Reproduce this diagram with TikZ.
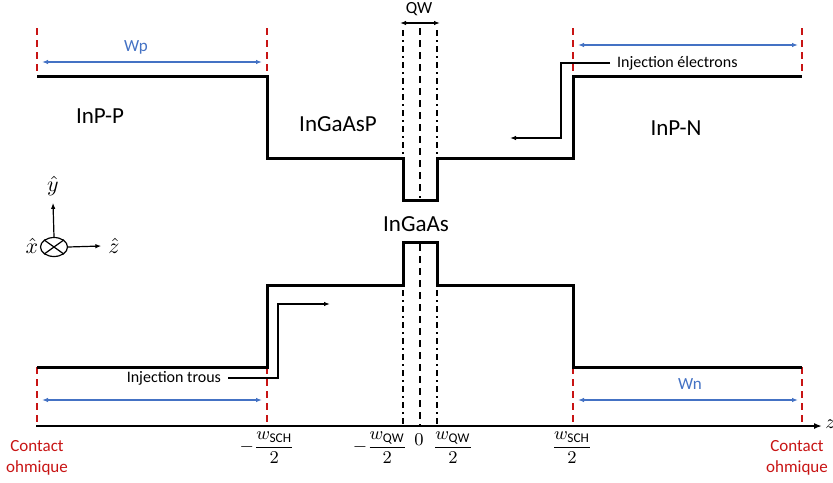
\documentclass[tikz,border=0pt]{standalone}
\usepackage{amsmath}
\usepackage{fontspec}
\setmainfont{Carlito}
\definecolor{ohmred}{RGB}{200,20,20}
\definecolor{widthblue}{RGB}{68,114,196}
\usetikzlibrary{arrows.meta,shapes.geometric}

\begin{document}
\begin{tikzpicture}[x=0.5pt,y=-0.5pt,
  band/.style={line width=1.5pt},
  ohmline/.style={ohmred, line width=1pt, dash pattern=on 3.5pt off 2.5pt},
  wdim/.style={widthblue, line width=0.8pt, {Latex[length=3pt]}-{Latex[length=3pt]}},
  inj/.style={line width=0.8pt, -{Latex[length=3pt]}},
  layer/.style={font=\fontsize{11.5}{13}\selectfont},
  smalltxt/.style={font=\fontsize{8}{9.5}\selectfont},
  ticklbl/.style={font=\fontsize{9.5}{11}\selectfont, inner sep=1pt}]
  \useasboundingbox (0,0) rectangle (833,482);

  \foreach \x in {37,267,573,802} {
    \draw[ohmline] (\x,28) -- (\x,76);
    \draw[ohmline] (\x,367) -- (\x,426);
  }
  \draw[wdim] (42,62) -- (262,62);
  \draw[wdim] (578,45) -- (798,45);
  \draw[wdim] (42,400) -- (262,400);
  \draw[wdim] (578,400) -- (798,400);
  \node[widthblue, font=\fontsize{8.5}{10}\selectfont] (wp) at (136,47) {Wp};
  \node[widthblue, font=\fontsize{8.5}{10}\selectfont] (wn) at (690,384) {Wn};

  \foreach \x in {403,437} {
    \draw[line width=1pt, dash dot] (\x,30) -- (\x,200);
    \draw[line width=1pt, dash dot] (\x,242) -- (\x,426);
  }
  \draw[line width=1pt, dash pattern=on 3.5pt off 2.5pt] (420,28) -- (420,198);
  \draw[line width=1pt, dash pattern=on 3.5pt off 2.5pt] (420,244) -- (420,426);
  \draw[line width=0.8pt, {Latex[length=3pt]}-{Latex[length=3pt]}] (400,23) -- (440,23);
  \node[font=\fontsize{8.5}{10}\selectfont] (qw) at (419,9) {QW};

  \draw[band] (37,76) -| (267,158) -| (403,200) -| (437,158) -| (573,76) -- (802,76);
  \draw[band] (37,367) -| (267,285) -| (403,242) -| (437,285) -| (573,367) -- (802,367);

  \node[layer] (inpp) at (100,116) {InP-P};
  \node[layer] (ingaasp) at (338,124) {InGaAsP};
  \node[layer] (inpn) at (676,128) {InP-N};
  \node[layer] (ingaas) at (416,224) {InGaAs};

  \node[smalltxt, anchor=west] (inje) at (610,63) {Injection électrons};
  \draw[inj] (inje.west) -| (561,138) -- (510,138);
  \node[smalltxt, anchor=east] (injt) at (228,378) {Injection trous};
  \draw[inj] (injt.east) -| (278,304) -- (330,304);

  \draw[line width=1pt, -{Latex[length=4pt]}] (36,426) -- (822,426);
  \node[anchor=west, inner sep=1pt, font=\fontsize{10}{12}\selectfont] (zlab) at (823,424) {$z$};

  \node[ticklbl] (mwsch) at (267,448) {$-\dfrac{w_{\mathrm{SCH}}}{2}$};
  \node[ticklbl] (mwqw) at (380,448) {$-\dfrac{w_{\mathrm{QW}}}{2}$};
  \node[ticklbl] (zero) at (419,440) {$0$};
  \node[ticklbl] (pwqw) at (453,448) {$\dfrac{w_{\mathrm{QW}}}{2}$};
  \node[ticklbl] (pwsch) at (572,448) {$\dfrac{w_{\mathrm{SCH}}}{2}$};

  \node[ohmred, align=center, font=\fontsize{8.5}{10.5}\selectfont] (ohml) at (37,458) {Contact\\ohmique};
  \node[ohmred, align=center, font=\fontsize{8.5}{10.5}\selectfont] (ohmr) at (797,458) {Contact\\ohmique};

  \node[draw, ellipse, minimum width=13.5pt, minimum height=9.5pt, inner sep=0, line width=0.6pt] (xdir) at (54,247) {};
  \draw[line width=0.6pt] (xdir.north west) -- (xdir.south east) (xdir.north east) -- (xdir.south west);
  \node[font=\fontsize{10.5}{12}\selectfont] (yhat) at (53,186) {$\hat{y}$};
  \node[font=\fontsize{10.5}{12}\selectfont] (zhat) at (114,246) {$\hat{z}$};
  \node[font=\fontsize{10.5}{12}\selectfont] (xhat) at (32,246) {$\hat{x}$};
  \draw[line width=0.6pt, -{Latex[length=3pt]}] (xdir.north) -- (yhat.south);
  \draw[line width=0.6pt, -{Latex[length=3pt]}] (xdir.east) -- (zhat.west);
\end{tikzpicture}
\end{document}
